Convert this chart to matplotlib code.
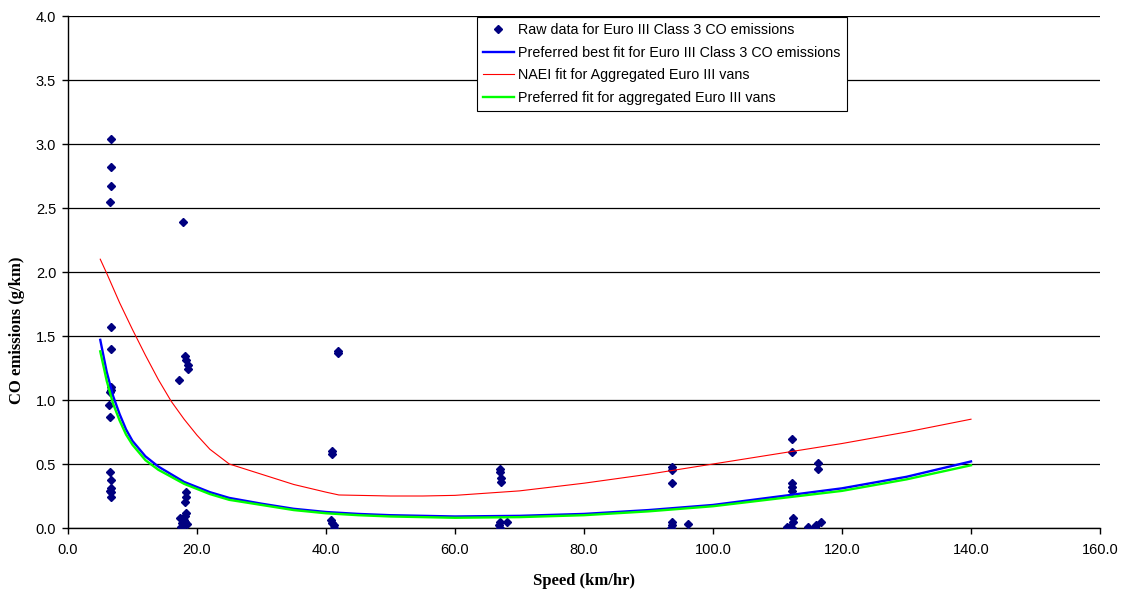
import numpy as np
import matplotlib
matplotlib.use("Agg")
import matplotlib.pyplot as plt

# raw data (speed km/hr, CO g/km)
raw_speed = [6.7, 6.7, 6.6, 6.5, 6.7, 6.7, 6.6, 6.6, 6.5, 6.4, 6.5, 6.5, 6.6, 6.6, 6.5, 6.6, 6.6,
             17.8, 18.2, 18.3, 18.6, 18.6, 17.2,
             18.3, 18.3, 18.2, 18.3, 18.2, 17.4, 18.0, 18.2, 17.6, 18.0, 18.4, 17.5,
             41.8, 41.9, 41.0, 40.9, 40.8, 41.0, 41.2, 41.3,
             67.0, 67.0, 67.2, 67.2, 67.0, 66.8, 68.0, 67.0,
             93.6, 93.6, 93.6, 93.6, 93.6, 93.5, 96.2,
             112.3, 112.3, 112.3, 112.3, 112.3, 112.4, 112.4, 111.9, 112.2, 111.4, 114.8,
             116.3, 116.3, 116.0, 116.7, 115.8]
raw_co = [3.04, 2.82, 2.67, 2.55, 1.57, 1.40, 1.10, 1.08, 1.06, 0.96, 0.87, 0.44, 0.375, 0.31, 0.29, 0.28, 0.24,
          2.39, 1.34, 1.31, 1.27, 1.24, 1.16,
          0.28, 0.245, 0.20, 0.12, 0.09, 0.08, 0.06, 0.05, 0.04, 0.02, 0.03, 0.01,
          1.38, 1.37, 0.60, 0.58, 0.06, 0.04, 0.02, 0.0,
          0.46, 0.44, 0.39, 0.36, 0.05, 0.02, 0.05, 0.0,
          0.48, 0.45, 0.35, 0.05, 0.02, 0.0, 0.03,
          0.695, 0.59, 0.35, 0.32, 0.29, 0.075, 0.05, 0.01, 0.0, 0.005, 0.005,
          0.505, 0.46, 0.02, 0.05, 0.01]

# fitted curves
fit_speed = [5, 6, 7, 8, 9, 10, 12, 14, 16, 18, 20, 22, 25, 30, 35, 40, 45, 50, 60, 70, 80, 90,
             100, 110, 120, 130, 140]
best_fit = [1.47, 1.22, 1.03, 0.89, 0.77, 0.68, 0.56, 0.48, 0.42, 0.36, 0.32, 0.28, 0.235, 0.19, 0.15,
            0.125, 0.11, 0.10, 0.09, 0.095, 0.11, 0.14, 0.18, 0.245, 0.31, 0.40, 0.52]
agg_fit = [1.38, 1.15, 0.97, 0.84, 0.73, 0.65, 0.53, 0.455, 0.40, 0.345, 0.305, 0.265, 0.22, 0.18, 0.14,
           0.115, 0.10, 0.09, 0.08, 0.085, 0.10, 0.13, 0.17, 0.23, 0.29, 0.38, 0.49]

naei_speed = [5, 6, 8, 10, 12, 14, 16, 18, 20, 22, 25, 30, 35, 40, 42, 45, 50, 55, 60, 70, 80, 90,
              100, 110, 120, 130, 140]
naei_fit = [2.10, 1.99, 1.76, 1.55, 1.35, 1.16, 0.99, 0.85, 0.725, 0.615, 0.50, 0.42, 0.34, 0.28, 0.258,
            0.255, 0.25, 0.25, 0.255, 0.29, 0.35, 0.42, 0.50, 0.58, 0.66, 0.75, 0.85]

plt.rcParams['font.family'] = ['Liberation Sans', 'DejaVu Sans']

fig = plt.figure(figsize=(11.22, 5.91), dpi=100)
ax = fig.add_axes([68 / 1122, 63 / 591, 1032 / 1122, 512 / 591])

ax.plot(raw_speed, raw_co, linestyle='none', marker='D', markersize=4.5, color='#000080',
        label='Raw data for Euro III Class 3 CO emissions', zorder=3)
ax.plot(fit_speed, best_fit, color='#0000ff', linewidth=1.7,
        label='Preferred best fit for Euro III Class 3 CO emissions', zorder=4)
ax.plot(naei_speed, naei_fit, color='#ff0000', linewidth=0.8,
        label='NAEI fit for Aggregated Euro III vans', zorder=4)
ax.plot(fit_speed, agg_fit, color='#00ff00', linewidth=1.7,
        label='Preferred fit for aggregated Euro III vans', zorder=4)

ax.set_xlim(0, 160)
ax.set_ylim(0, 4)
ax.set_xticks(np.arange(0, 161, 20))
ax.set_yticks(np.arange(0, 4.01, 0.5))
ax.set_xticklabels([f"{v:.1f}" for v in np.arange(0, 161, 20)])
ax.set_yticklabels([f"{v:.1f}" for v in np.arange(0, 4.01, 0.5)])
ax.tick_params(direction='out', length=4.5, width=1, labelsize=10.5, color='black')
ax.tick_params(axis='x', pad=6)
ax.tick_params(axis='y', pad=4)
ax.grid(axis='y', color='black', linewidth=0.9)
ax.set_axisbelow(True)
for s in ['top', 'right']:
    ax.spines[s].set_visible(False)
for s in ['left', 'bottom']:
    ax.spines[s].set_linewidth(1)

ax.set_xlabel('Speed (km/hr)', family=['Liberation Serif'], fontweight='bold', fontsize=12)
ax.xaxis.set_label_coords(0.5, -0.088)
ax.set_ylabel('CO emissions (g/km)', family=['Liberation Serif'], fontweight='bold', fontsize=12)
ax.yaxis.set_label_coords(-0.0415, 0.387)

leg = ax.legend(loc='upper left', bbox_to_anchor=(477 / 1122, 1 - 17 / 591), bbox_transform=fig.transFigure,
                fontsize=10.3, fancybox=False, framealpha=1, edgecolor='black', borderpad=0.4,
                labelspacing=0.62, handlelength=2.2, handletextpad=0.3, markerscale=0.8,
                borderaxespad=0)
leg.get_frame().set_linewidth(0.8)

fig.savefig('out.png', dpi=100)
